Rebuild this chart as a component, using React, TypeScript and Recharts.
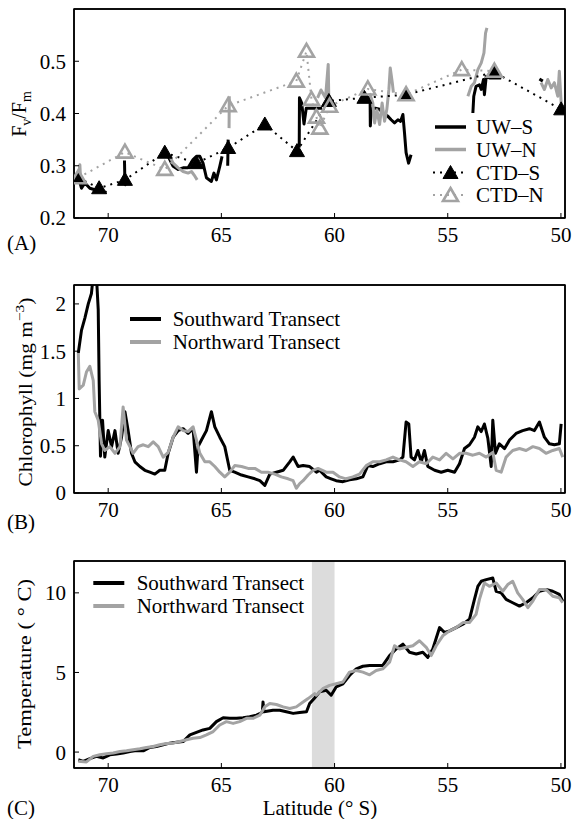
import React from "react";
import { ComposedChart, Line, XAxis, YAxis, ReferenceArea, Legend } from "recharts";

const FONT = '"Liberation Serif", "Times New Roman", serif';
const GRAY = "#a3a3a3";

type Pt = [number, number | null];

// shared latitude axis
const latTicks = [70, 65, 60, 55, 50];
const latDomain = [49.82, 71.51];

// (A) Fv/Fm, underway (UW) and CTD, southward (S) / northward (N)
const fvTicks = [0.2, 0.3, 0.4, 0.5];
const uwS: Pt[] = [
  [71.28, 0.273], [71.18, 0.257], [71.03, 0.267], [70.81, 0.257], [70.59, 0.254], [70.29, 0.251], [70.07, 0.249],
  [69.8, null],
  [69.28, 0.31], [69.26, 0.265], [69.2, 0.262],
  [68.5, null],
  [67.5, 0.334], [67.35, 0.318], [67.13, 0.299], [66.91, 0.293], [66.69, 0.296], [66.47, 0.296], [66.25, 0.312],
  [66.1, 0.318], [65.95, 0.318], [65.81, 0.305], [65.66, 0.277], [65.44, 0.27], [65.33, 0.286], [65.22, 0.273],
  [65.07, 0.299], [64.97, 0.318],
  [64.8, null],
  [64.72, 0.3], [64.7, 0.35],
  [63.0, null],
  [61.56, 0.335], [61.55, 0.43], [61.45, 0.42], [61.35, 0.38], [61.25, 0.41], [61.1, 0.41], [60.9, 0.41], [60.55, 0.41],
  [59.5, null],
  [58.6, 0.43], [58.43, 0.43], [58.42, 0.376], [58.38, 0.408], [58.2, 0.41], [58.01, 0.408], [57.85, 0.4],
  [57.65, 0.395], [57.5, 0.388], [57.35, 0.382], [57.2, 0.388], [57.08, 0.385], [56.98, 0.398], [56.91, 0.363],
  [56.84, 0.325], [56.73, 0.305], [56.62, 0.321],
  [55.0, null],
  [53.89, 0.401], [53.85, 0.433], [53.75, 0.452], [53.6, 0.455], [53.52, 0.446], [53.42, 0.465], [53.38, 0.436],
  [53.3, 0.471], [53.16, 0.468], [52.94, 0.468], [52.64, 0.468],
  [51.5, null],
  [50.95, 0.466], [50.8, 0.462],
];
const uwN: Pt[] = [
  [71.3, 0.285], [71.25, 0.302], [71.22, 0.273], [71.1, 0.27],
  [68.0, null],
  [67.28, 0.318], [67.13, 0.305], [66.91, 0.296], [66.69, 0.289], [66.47, 0.286], [66.32, 0.289], [66.17, 0.28], [66.07, 0.273],
  [65.0, null],
  [64.66, 0.372], [64.65, 0.433],
  [62.0, null],
  [60.75, 0.43], [60.6, 0.445], [60.4, 0.43], [60.28, 0.494], [60.25, 0.42],
  [59.5, null],
  [58.45, 0.439], [58.31, 0.42], [58.23, 0.382], [58.13, 0.407], [58.01, 0.379], [57.9, 0.42], [57.79, 0.385],
  [57.69, 0.408], [57.6, 0.446], [57.54, 0.487], [57.45, 0.459], [57.4, 0.44],
  [55.0, null],
  [54.11, 0.433], [53.96, 0.452], [53.82, 0.459], [53.67, 0.484], [53.52, 0.497], [53.4, 0.516], [53.33, 0.554], [53.27, 0.564],
  [52.0, null],
  [50.88, 0.459], [50.73, 0.446], [50.58, 0.465], [50.43, 0.449], [50.29, 0.459], [50.14, 0.433], [50.07, 0.481], [49.99, 0.42],
];
const ctdS: Pt[] = [
  [71.32, 0.277], [70.4, 0.257], [69.26, 0.273], [67.5, 0.325], [66.1, 0.305], [64.7, 0.334], [63.08, 0.379],
  [61.66, 0.328], [60.25, 0.424], [58.68, 0.43], [56.84, 0.436], [52.94, 0.479], [49.99, 0.408],
];
const ctdN: Pt[] = [
  [71.32, 0.277], [69.26, 0.326], [67.5, 0.293], [64.7, 0.415], [61.69, 0.462], [61.24, 0.519], [61.02, 0.427],
  [60.8, 0.393], [60.65, 0.372], [60.22, 0.414], [58.53, 0.447], [56.84, 0.436], [54.38, 0.484], [52.94, 0.481],
];

// (B) chlorophyll
const chlTicks = [0, 0.5, 1, 1.5, 2];
const chlS: Pt[] = [
  [71.32, 1.48], [71.18, 1.72], [71.03, 1.85], [70.88, 2.0], [70.74, 2.11], [70.66, 2.3], [70.52, 2.3], [70.44, 1.94],
  [70.4, 1.19], [70.34, 0.39], [70.25, 0.77], [70.15, 0.38], [70.0, 0.66], [69.85, 0.49], [69.7, 0.66], [69.56, 0.42],
  [69.41, 0.59], [69.26, 0.86], [69.12, 0.66], [68.97, 0.42], [68.82, 0.33], [68.6, 0.28], [68.38, 0.24], [68.16, 0.22],
  [67.94, 0.2], [67.72, 0.24], [67.5, 0.24], [67.35, 0.42], [67.13, 0.59], [66.91, 0.66], [66.69, 0.68], [66.47, 0.63],
  [66.25, 0.68], [66.1, 0.22], [66.03, 0.49], [65.88, 0.56], [65.66, 0.66], [65.44, 0.86], [65.29, 0.7], [65.07, 0.59],
  [64.85, 0.49], [64.63, 0.24], [64.41, 0.22], [64.11, 0.19], [63.82, 0.17], [63.52, 0.15], [63.3, 0.13], [63.08, 0.08],
  [62.86, 0.2], [62.57, 0.22], [62.27, 0.24], [61.98, 0.33], [61.83, 0.38], [61.61, 0.28], [61.39, 0.29], [61.1, 0.28],
  [60.8, 0.22], [60.66, 0.24], [60.37, 0.17], [60.15, 0.15], [59.93, 0.13], [59.63, 0.12], [59.34, 0.14], [59.04, 0.15],
  [58.75, 0.17], [58.53, 0.29], [58.31, 0.28], [58.01, 0.31], [57.72, 0.33], [57.42, 0.33], [57.13, 0.35], [56.98, 0.38],
  [56.84, 0.75], [56.72, 0.73], [56.62, 0.38], [56.47, 0.35], [56.32, 0.45], [56.17, 0.33], [56.03, 0.45], [55.88, 0.28],
  [55.58, 0.24], [55.29, 0.22], [55.0, 0.24], [54.7, 0.22], [54.48, 0.31], [54.26, 0.47], [54.04, 0.51], [53.82, 0.59],
  [53.67, 0.7], [53.52, 0.65], [53.38, 0.73], [53.23, 0.58], [53.08, 0.28], [53.01, 0.77], [52.89, 0.42], [52.72, 0.52],
  [52.49, 0.47], [52.27, 0.56], [51.98, 0.63], [51.69, 0.66], [51.39, 0.68], [51.17, 0.66], [50.95, 0.75], [50.73, 0.59],
  [50.51, 0.52], [50.29, 0.51], [50.07, 0.52], [49.99, 0.73],
];
const chlN: Pt[] = [
  [71.32, 1.48], [71.28, 1.1], [71.1, 1.14], [70.96, 1.28], [70.81, 1.34], [70.66, 1.19], [70.59, 0.86], [70.44, 0.77],
  [70.29, 0.52], [70.15, 0.45], [69.93, 0.49], [69.7, 0.42], [69.48, 0.49], [69.34, 0.91], [69.19, 0.56], [69.04, 0.49],
  [68.9, 0.42], [68.68, 0.49], [68.45, 0.51], [68.23, 0.49], [68.01, 0.54], [67.79, 0.49], [67.57, 0.38], [67.35, 0.43],
  [67.13, 0.59], [66.91, 0.7], [66.69, 0.66], [66.47, 0.65], [66.25, 0.7], [66.1, 0.56], [65.95, 0.42], [65.73, 0.33],
  [65.51, 0.33], [65.29, 0.28], [65.07, 0.22], [64.85, 0.17], [64.63, 0.22], [64.41, 0.29], [64.11, 0.28], [63.82, 0.26],
  [63.52, 0.26], [63.23, 0.22], [62.94, 0.22], [62.64, 0.2], [62.35, 0.17], [62.05, 0.15], [61.83, 0.13], [61.69, 0.05],
  [61.54, 0.1], [61.39, 0.13], [61.17, 0.19], [60.95, 0.24], [60.73, 0.26], [60.37, 0.22], [60.07, 0.22], [59.78, 0.17],
  [59.49, 0.15], [59.19, 0.17], [58.9, 0.2], [58.6, 0.29], [58.31, 0.33], [58.01, 0.33], [57.72, 0.35], [57.42, 0.38],
  [57.13, 0.35], [56.84, 0.33], [56.54, 0.28], [56.25, 0.33], [55.95, 0.31], [55.66, 0.38], [55.36, 0.35], [55.07, 0.42],
  [54.77, 0.36], [54.48, 0.42], [54.19, 0.42], [53.89, 0.4], [53.6, 0.42], [53.3, 0.38], [53.01, 0.43], [52.86, 0.24],
  [52.64, 0.22], [52.42, 0.38], [52.13, 0.45], [51.83, 0.47], [51.54, 0.45], [51.24, 0.49], [50.95, 0.47], [50.66, 0.42],
  [50.36, 0.45], [50.07, 0.47], [49.92, 0.38],
];

// (C) temperature
const tempTicks = [0, 5, 10];
const shadedBand = [61, 60];
const tempS: Pt[] = [
  [71.32, -0.48], [71.1, -0.58], [70.81, -0.41], [70.52, -0.27], [70.22, -0.37], [69.93, -0.17], [69.63, -0.12],
  [69.34, -0.06], [69.04, 0.04], [68.75, 0.1], [68.45, 0.08], [68.16, 0.29], [67.87, 0.35], [67.57, 0.46], [67.28, 0.56],
  [66.98, 0.62], [66.69, 0.66], [66.39, 1.08], [66.1, 1.24], [65.81, 1.39], [65.51, 1.49], [65.22, 1.91], [64.92, 2.16],
  [64.63, 2.12], [64.33, 2.12], [64.04, 2.16], [63.75, 2.22], [63.45, 2.32], [63.19, 2.5], [63.16, 3.15], [63.12, 2.53],
  [62.72, 2.63], [62.42, 2.63], [62.13, 2.53], [61.83, 2.43], [61.54, 2.49], [61.24, 2.53], [61.1, 3.05], [60.88, 3.4],
  [60.66, 3.78], [60.37, 3.88], [60.15, 3.57], [59.93, 4.09], [59.63, 4.29], [59.34, 4.81], [59.04, 5.23], [58.75, 5.39],
  [58.45, 5.44], [58.16, 5.44], [57.87, 5.44], [57.57, 6.06], [57.28, 6.47], [56.98, 6.78], [56.69, 6.27], [56.39, 6.16],
  [56.1, 6.27], [55.88, 5.95], [55.66, 6.47], [55.36, 7.82], [55.14, 7.51], [54.92, 7.61], [54.63, 7.82], [54.33, 8.03],
  [54.04, 8.34], [53.82, 9.59], [53.67, 10.41], [53.52, 10.73], [53.3, 10.83], [53.01, 10.93], [52.86, 10.1], [52.64, 10.0],
  [52.42, 9.59], [52.13, 9.38], [51.83, 9.17], [51.54, 9.38], [51.24, 9.69], [50.95, 10.1], [50.66, 10.21], [50.36, 10.1],
  [50.07, 9.9], [49.92, 9.48],
];
const tempN: Pt[] = [
  [71.32, -0.58], [70.96, -0.62], [70.66, -0.27], [70.37, -0.17], [70.07, -0.1], [69.78, -0.06], [69.48, 0.04],
  [69.19, 0.08], [68.9, 0.15], [68.6, 0.21], [68.31, 0.29], [68.01, 0.35], [67.72, 0.46], [67.42, 0.54], [67.13, 0.56],
  [66.84, 0.66], [66.54, 0.77], [66.25, 0.87], [65.95, 0.91], [65.66, 1.08], [65.36, 1.29], [65.07, 1.7], [64.78, 1.91],
  [64.48, 1.8], [64.19, 1.91], [63.89, 2.12], [63.6, 2.12], [63.3, 2.32], [63.08, 2.84], [62.86, 3.05], [62.57, 2.99],
  [62.27, 2.84], [61.98, 2.74], [61.69, 2.84], [61.39, 3.15], [61.17, 3.36], [60.88, 3.67], [60.81, 3.57], [60.52, 3.98],
  [60.22, 4.19], [59.93, 4.29], [59.63, 4.4], [59.34, 5.02], [59.04, 5.12], [58.75, 5.02], [58.45, 4.85], [58.16, 5.12],
  [57.87, 5.23], [57.57, 5.64], [57.35, 6.68], [57.13, 6.47], [56.84, 6.58], [56.54, 6.68], [56.25, 6.99], [55.95, 6.58],
  [55.73, 6.06], [55.51, 6.68], [55.22, 7.3], [54.92, 7.61], [54.63, 7.82], [54.33, 8.13], [54.04, 8.13], [53.75, 8.65],
  [53.6, 9.59], [53.38, 10.62], [53.16, 10.41], [52.86, 10.62], [52.57, 10.1], [52.35, 10.52], [52.13, 10.73], [51.91, 10.0],
  [51.69, 9.59], [51.46, 9.07], [51.24, 9.48], [50.95, 10.21], [50.66, 10.21], [50.36, 9.79], [50.07, 9.69], [49.92, 9.38],
];

const rows = (pts: Pt[]) => pts.map(([lat, v]) => ({ lat, v }));

const tickStyle = { fill: "#000", fontSize: 21, fontFamily: FONT };
const frameLine = { stroke: "#000", strokeWidth: 1.5 };

// box with inward ticks on all four sides, like the original
function axes(yDomain: number[], yTicks: number[]) {
  return [
    <XAxis key="xb" xAxisId="b" type="number" dataKey="lat" domain={latDomain} reversed allowDataOverflow
      ticks={latTicks} interval={0} tickSize={-5} tickMargin={14} height={30}
      axisLine={frameLine} tickLine={{ stroke: "#000" }} tick={tickStyle} />,
    <XAxis key="xt" xAxisId="t" orientation="top" type="number" dataKey="lat" domain={latDomain} reversed allowDataOverflow
      ticks={latTicks} interval={0} tickSize={-5} height={1} axisLine={frameLine} tickLine={{ stroke: "#000" }} tick={false} />,
    <YAxis key="yl" yAxisId="l" type="number" domain={yDomain} allowDataOverflow ticks={yTicks} interval={0}
      tickSize={-5} tickMargin={13} width={74} axisLine={frameLine} tickLine={{ stroke: "#000" }} tick={tickStyle} />,
    <YAxis key="yr" yAxisId="r" orientation="right" type="number" domain={yDomain} allowDataOverflow ticks={yTicks}
      interval={0} tickSize={-5} width={1} axisLine={frameLine} tickLine={{ stroke: "#000" }} tick={false} />,
    <ReferenceArea key="frame" xAxisId="b" yAxisId="l" x1={latDomain[0]} x2={latDomain[1]} y1={yDomain[0]} y2={yDomain[1]}
      fill="none" stroke="#000" strokeWidth={1.5} ifOverflow="visible" />,
  ];
}

const Tri = ({ cx, cy, filled }: { cx: number; cy: number; filled: boolean }) => (
  <path
    d={`M${cx},${cy - 7.5} L${cx + 7.5},${cy + 5.5} L${cx - 7.5},${cy + 5.5} Z`}
    fill={filled ? "#000" : "none"}
    stroke={filled ? "#000" : GRAY}
    strokeWidth={filled ? 1 : 2.6}
    strokeLinejoin="miter"
  />
);

const legendText = { fontFamily: FONT, fontSize: 21, fill: "#000" };

const LegendA = () => (
  <svg width={140} height={100}>
    <line x1={10} x2={41} y1={17} y2={17} stroke="#000" strokeWidth={3.5} />
    <text x={51} y={17} dy="0.35em" {...legendText}>UW–S</text>
    <line x1={10} x2={41} y1={39.5} y2={39.5} stroke={GRAY} strokeWidth={3.5} />
    <text x={51} y={39.5} dy="0.35em" {...legendText}>UW–N</text>
    <line x1={8} x2={43} y1={62.5} y2={62.5} stroke="#000" strokeWidth={2} strokeDasharray="2 5" />
    <Tri cx={25.5} cy={63} filled />
    <text x={51} y={62.5} dy="0.35em" {...legendText}>CTD–S</text>
    <line x1={8} x2={43} y1={85} y2={85} stroke={GRAY} strokeWidth={2} strokeDasharray="2 5" />
    <Tri cx={25.5} cy={85.5} filled={false} />
    <text x={51} y={85} dy="0.35em" {...legendText}>CTD–N</text>
  </svg>
);

const TransectLegend = ({ lx, tx }: { lx: number; tx: number }) => (
  <svg width={240} height={52}>
    <line x1={lx} x2={lx + 31} y1={13} y2={13} stroke="#000" strokeWidth={4} />
    <text x={tx} y={13} dy="0.35em" {...legendText}>Southward Transect</text>
    <line x1={lx} x2={lx + 31} y1={36} y2={36} stroke={GRAY} strokeWidth={4} />
    <text x={tx} y={36} dy="0.35em" {...legendText}>Northward Transect</text>
  </svg>
);

const noLegendOffset = { layout: "vertical" as const, align: "center" as const, verticalAlign: "middle" as const };

const labelFont = { fontFamily: FONT, fill: "#000" };

export default function App() {
  return (
    <div style={{ position: "fixed", left: 0, top: 0, width: 573, height: 819, background: "#fff" }}>
      <div style={{ position: "absolute", left: 0, top: 0 }}>
        <ComposedChart width={573} height={250} margin={{ top: 8, right: 7, bottom: 2, left: 0 }}>
          {axes([0.2, 0.6], fvTicks)}
          <Line xAxisId="b" yAxisId="l" data={rows(uwS)} dataKey="v" stroke="#000" strokeWidth={3}
            dot={false} activeDot={false} isAnimationActive={false} strokeLinejoin="round" />
          <Line xAxisId="b" yAxisId="l" data={rows(uwN)} dataKey="v" stroke={GRAY} strokeWidth={3}
            dot={false} activeDot={false} isAnimationActive={false} strokeLinejoin="round" />
          <Line xAxisId="b" yAxisId="l" data={rows(ctdS)} dataKey="v" stroke="#000" strokeWidth={2}
            strokeDasharray="2 5" activeDot={false} isAnimationActive={false}
            dot={(p: any) => <Tri key={`s${p.index}`} cx={p.cx} cy={p.cy} filled />} />
          <Line xAxisId="b" yAxisId="l" data={rows(ctdN)} dataKey="v" stroke={GRAY} strokeWidth={2}
            strokeDasharray="2 5" activeDot={false} isAnimationActive={false}
            dot={(p: any) => <Tri key={`n${p.index}`} cx={p.cx} cy={p.cy} filled={false} />} />
          <Legend {...noLegendOffset} content={() => <LegendA />}
            wrapperStyle={{ position: "absolute", left: 425, top: 110, width: 140, height: 100 }} />
        </ComposedChart>
      </div>

      <div style={{ position: "absolute", left: 0, top: 275 }}>
        <ComposedChart width={573} height={250} margin={{ top: 9, right: 7, bottom: 2, left: 0 }}>
          {axes([0, 2.2], chlTicks)}
          <Line xAxisId="b" yAxisId="l" data={rows(chlS)} dataKey="v" stroke="#000" strokeWidth={3}
            dot={false} activeDot={false} isAnimationActive={false} strokeLinejoin="round" />
          <Line xAxisId="b" yAxisId="l" data={rows(chlN)} dataKey="v" stroke={GRAY} strokeWidth={3}
            dot={false} activeDot={false} isAnimationActive={false} strokeLinejoin="round" />
          <Legend {...noLegendOffset} content={() => <TransectLegend lx={10} tx={52.7} />}
            wrapperStyle={{ position: "absolute", left: 120, top: 31, width: 240, height: 52 }} />
        </ComposedChart>
      </div>

      <div style={{ position: "absolute", left: 0, top: 550 }}>
        <ComposedChart width={573} height={250} margin={{ top: 10, right: 7, bottom: 2, left: 0 }}>
          <ReferenceArea xAxisId="b" yAxisId="l" x1={shadedBand[0]} x2={shadedBand[1]} fill="#dcdcdc" fillOpacity={1}
            stroke="none" />
          {axes([-1, 12], tempTicks)}
          <Line xAxisId="b" yAxisId="l" data={rows(tempS)} dataKey="v" stroke="#000" strokeWidth={3}
            dot={false} activeDot={false} isAnimationActive={false} strokeLinejoin="round" />
          <Line xAxisId="b" yAxisId="l" data={rows(tempN)} dataKey="v" stroke={GRAY} strokeWidth={3}
            dot={false} activeDot={false} isAnimationActive={false} strokeLinejoin="round" />
          <Legend {...noLegendOffset} content={() => <TransectLegend lx={8.3} tx={51.7} />}
            wrapperStyle={{ position: "absolute", left: 85, top: 20, width: 240, height: 52 }} />
        </ComposedChart>
      </div>

      <svg width={573} height={819} style={{ position: "absolute", left: 0, top: 0, pointerEvents: "none" }}>
        <text transform="translate(26,114) rotate(-90)" textAnchor="middle" fontSize={20} {...labelFont}>
          F<tspan dy={5} fontSize={14}>v</tspan><tspan dy={-5}>/F</tspan><tspan dy={5} fontSize={14}>m</tspan>
        </text>
        <text transform="translate(32,392) rotate(-90)" textAnchor="middle" fontSize={18} textLength={189}
          lengthAdjust="spacingAndGlyphs" {...labelFont}>
          Chlorophyll (mg m<tspan dy={-8} fontSize={13}>−3</tspan><tspan dy={8}>)</tspan>
        </text>
        <text transform="translate(31,664) rotate(-90)" textAnchor="middle" fontSize={18} textLength={170}
          lengthAdjust="spacingAndGlyphs" {...labelFont}>
          Temperature ( ° C)
        </text>
        <text x={7} y={250} fontSize={21} {...labelFont}>(A)</text>
        <text x={7} y={529} fontSize={21} {...labelFont}>(B)</text>
        <text x={7} y={815} fontSize={21} {...labelFont}>(C)</text>
        <text x={320} y={815} textAnchor="middle" fontSize={21} {...labelFont}>Latitude (° S)</text>
      </svg>
    </div>
  );
}
